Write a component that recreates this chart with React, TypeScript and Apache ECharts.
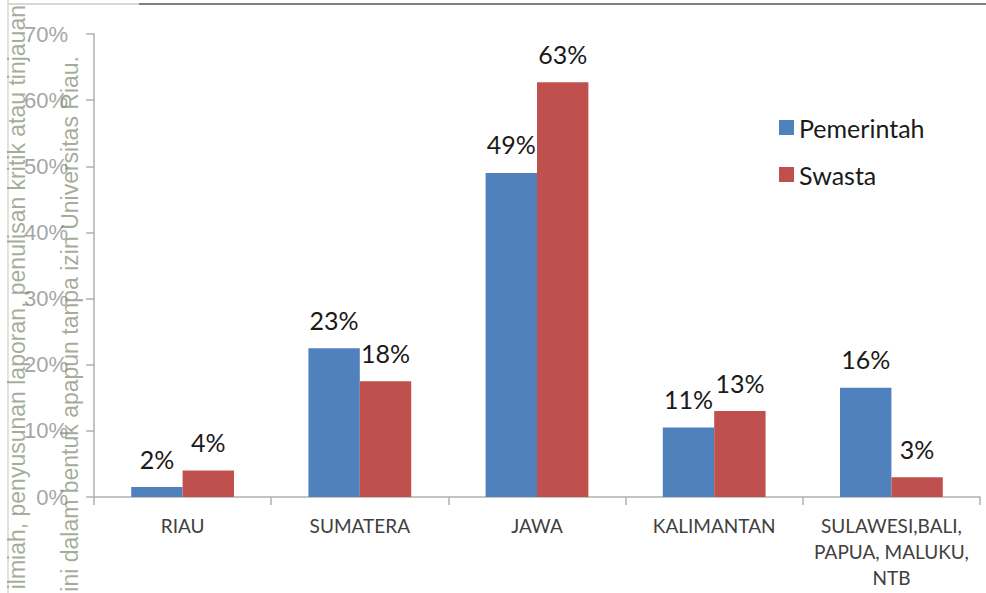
import React, { useEffect, useRef } from "react";
import * as echarts from "echarts";

const categories = ["RIAU", "SUMATERA", "JAWA", "KALIMANTAN", "SULAWESI,BALI,\nPAPUA, MALUKU,\nNTB"];
const pemerintah = [1.5, 22.5, 49, 10.5, 16.5];
const swasta = [4, 17.5, 62.7, 13, 3];
const pemerintahLabels = ["2%", "23%", "49%", "11%", "16%"];
const swastaLabels = ["4%", "18%", "63%", "13%", "3%"];
const seriesNames = ["Pemerintah", "Swasta"];
const watermark1 = "ilmiah, penyusunan laporan, penulisan kritik atau tinjauan";
const watermark2 = "ini dalam bentuk apapun tanpa izin Universitas Riau.";

const FONT = "Lato, 'Open Sans', sans-serif";

export default function App() {
  const ref = useRef<HTMLDivElement>(null);
  useEffect(() => {
    if (!ref.current) return;
    const chart = echarts.init(ref.current, null, { renderer: "svg" });
    const labelStyle = (labels: string[]) => ({
      show: true,
      position: "top" as const,
      distance: 16,
      fontSize: 25,
      fontFamily: FONT,
      color: "#1a1a1a",
      formatter: (p: any) => labels[p.dataIndex],
    });
    chart.setOption({
      animation: false,
      backgroundColor: "#ffffff",
      grid: { left: 94, right: 6, top: 34, bottom: 96, containLabel: false },
      legend: {
        orient: "vertical",
        left: 774,
        top: 110,
        itemWidth: 15,
        itemHeight: 15,
        itemGap: 22,
        icon: "rect",
        textStyle: { fontSize: 25, fontFamily: FONT, color: "#1a1a1a" },
        data: seriesNames,
      },
      xAxis: {
        type: "category",
        data: categories,
        axisLine: { lineStyle: { color: "#b0b0b0", width: 1.5 } },
        axisTick: { show: true, length: 8, lineStyle: { color: "#b0b0b0", width: 1.5 } },
        axisLabel: {
          interval: 0,
          margin: 15,
          fontSize: 19,
          lineHeight: 26,
          fontFamily: FONT,
          color: "#404040",
        },
      },
      yAxis: {
        type: "value",
        min: 0,
        max: 70,
        interval: 10,
        splitLine: { show: false },
        axisLine: { show: true, lineStyle: { color: "#b0b0b0", width: 1.5 } },
        axisTick: { show: true, length: 8, lineStyle: { color: "#b0b0b0", width: 1.5 } },
        axisLabel: {
          formatter: "{value}%",
          margin: 26,
          fontSize: 22,
          fontFamily: "'Liberation Sans', Arial, sans-serif",
          color: "#a6a6a6",
        },
      },
      series: [
        {
          name: seriesNames[0],
          type: "bar",
          data: pemerintah,
          barGap: "0%",
          barCategoryGap: "42%",
          itemStyle: { color: "#4F81BD" },
          label: labelStyle(pemerintahLabels),
        },
        {
          name: seriesNames[1],
          type: "bar",
          data: swasta,
          barGap: "0%",
          barCategoryGap: "42%",
          itemStyle: { color: "#C0504D" },
          label: labelStyle(swastaLabels),
        },
      ],
      graphic: [
        { type: "line", shape: { x1: 8, y1: 0, x2: 8, y2: 593 }, style: { stroke: "#d8d8d8", lineWidth: 1.5 }, z: 100 },
        { type: "line", shape: { x1: 8, y1: 4, x2: 139, y2: 4 }, style: { stroke: "#d8d8d8", lineWidth: 2 }, z: 100 },
        { type: "line", shape: { x1: 139, y1: 4, x2: 986, y2: 4 }, style: { stroke: "#7f7f7f", lineWidth: 2 }, z: 100 },
        {
          type: "text",
          x: 17,
          y: 5,
          rotation: Math.PI / 2,
          z: 100,
          style: {
            text: watermark1,
            font: "23px 'Liberation Sans', Arial, sans-serif",
            fill: "rgba(130,140,115,0.72)",
            align: "right",
            verticalAlign: "middle",
            textAlign: "right",
            textVerticalAlign: "middle",
          },
        },
        {
          type: "text",
          x: 70,
          y: 56,
          rotation: Math.PI / 2,
          z: 100,
          style: {
            text: watermark2,
            font: "23px 'Liberation Sans', Arial, sans-serif",
            fill: "rgba(130,140,115,0.72)",
            align: "right",
            verticalAlign: "middle",
            textAlign: "right",
            textVerticalAlign: "middle",
          },
        },
      ],
    });
    return () => chart.dispose();
  }, []);
  return (
    <div
      ref={ref}
      style={{ position: "fixed", left: 0, top: 0, width: 986, height: 593, background: "#fff" }}
    />
  );
}
